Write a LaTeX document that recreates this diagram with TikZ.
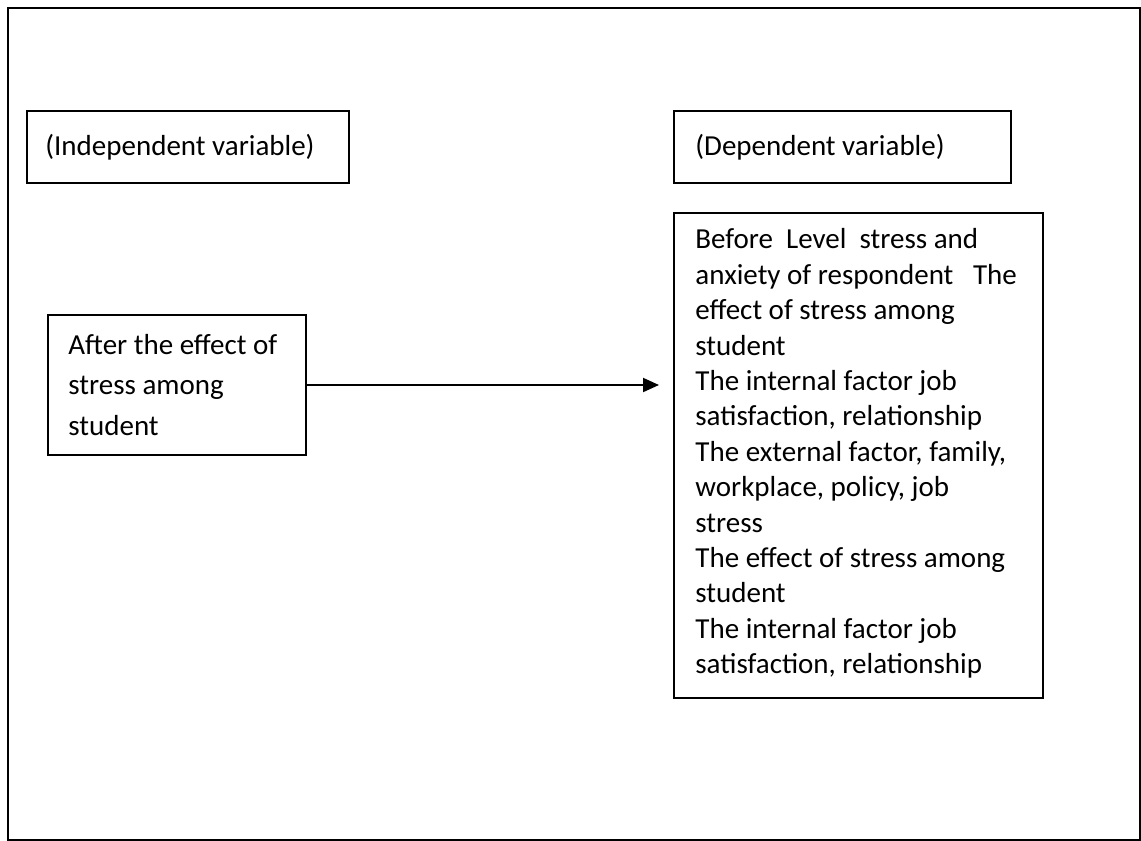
\documentclass[tikz,border=0pt]{standalone}
\usepackage{fontspec}
\setmainfont{Carlito}
\usepackage{tikz}
\usetikzlibrary{arrows.meta, positioning}
\tikzset{mybox/.style = {draw,line width=1pt,anchor=north west,inner sep=0pt}}
\tikzset{mytext/.style = {anchor=west,align=left,inner sep=0pt,font=\fontsize{14.5pt}{#1}\selectfont},
         mytext/.default = 17.7pt}
\tikzset{myarrow/.style = {line width=1pt,-{Triangle[length=8pt,width=7pt]}}}

\begin{document}
\begin{tikzpicture}[x=0.5pt,y=-0.5pt]
\useasboundingbox (0,0) rectangle (1141,841);
\draw[line width=1pt] (7.5,7.5) rectangle (1139.5,839.5);
\node[mybox,minimum width=161pt,minimum height=36pt] (indep) at (26,110) {};
\node[mybox,minimum width=168.5pt,minimum height=36pt] (dep) at (673,110) {};
\node[mybox,minimum width=184.5pt,minimum height=242.5pt] (deplist) at (673,212) {};
\node[mybox,minimum width=129pt,minimum height=70pt] (after) at (47,314) {};
\node[mytext] (indeptext) at ([xshift=9.5pt]indep.west) {(Independent variable)};
\node[mytext] (deptext) at ([xshift=11pt]dep.west) {(Dependent variable)};
\node[mytext] (deplisttext) at ([xshift=11pt,yshift=1pt]deplist.west)
{Before\ \ Level\ \ stress and\\
anxiety of respondent\ \ \ The\\
effect of stress among\\
student\\
The internal factor job\\
satisfaction, relationship\\
The external factor, family,\\
workplace, policy, job\\
stress\\
The effect of stress among\\
student\\
The internal factor job\\
satisfaction, relationship};
\node[mytext=20.35pt] (aftertext) at ([xshift=10.5pt]after.west)
{After the effect of\\
stress among\\
student};
\coordinate (tip) at (659,383);
\draw[myarrow] (after.east) -- (after.east -| tip);
\end{tikzpicture}
\end{document}
